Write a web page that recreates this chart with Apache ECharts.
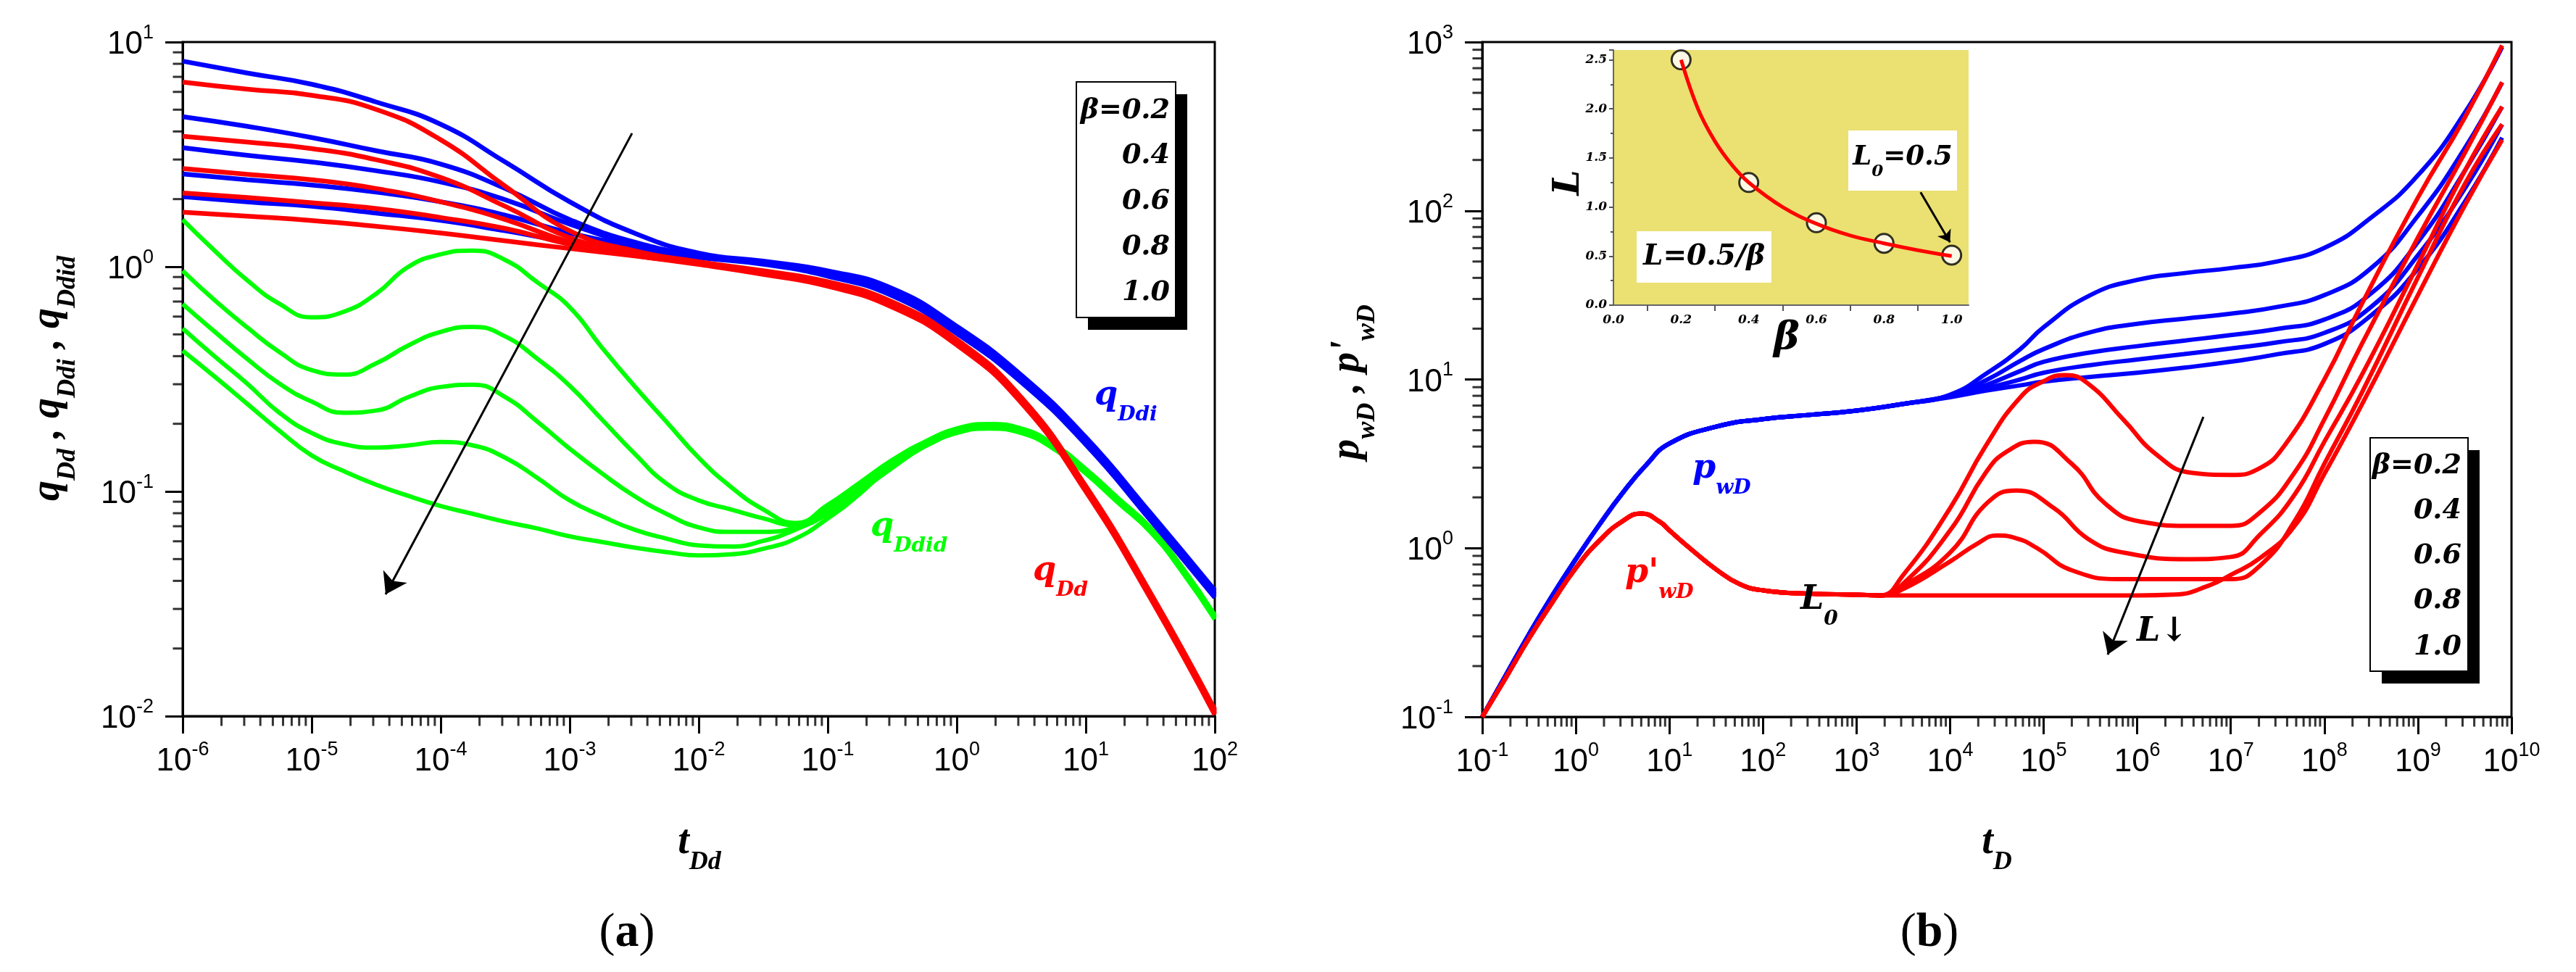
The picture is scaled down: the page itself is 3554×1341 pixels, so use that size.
<!DOCTYPE html>
<html>
<head>
<meta charset="utf-8">
<title>qDd / pwD type curves</title>
<script src="https://cdn.jsdelivr.net/npm/echarts@6.0.0/dist/echarts.min.js"></script>
<style>
  html, body { margin: 0; padding: 0; background: #fff; }
  #container { width: 3554px; height: 1341px; }
</style>
</head>
<body>
<div id="container"></div>
<script>
// both panels are log-log: every value below is the log10 exponent,
// the axes run in decades and the labels are written back as 10^n

var betaLabels = ['β=0.2', '0.4', '0.6', '0.8', '1.0'];

// ---- panel (a), x = log10(tDd)
var tDdHalf = [-6, -5.5, -5, -4.5, -4, -3.5, -3, -2.5, -2, -1.5, -1, -0.5, 0, 0.5, 1, 1.5, 2];
var tDdQuarter = [-6, -5.75, -5.5, -5.25, -5, -4.75, -4.5, -4.25, -4, -3.75, -3.5, -3.25, -3, -2.75, -2.5, -2.25,
                  -2, -1.75, -1.5, -1.25, -1, -0.75, -0.5, -0.25, 0, 0.25, 0.5, 0.75, 1, 1.25, 1.5, 1.75, 2];

// qDdi (blue) on tDdHalf
var qDdi02 = [0.915, 0.862, 0.812, 0.733, 0.634, 0.466, 0.289, 0.15, 0.061, 0.025, -0.018, -0.097, -0.265, -0.482, -0.759, -1.095, -1.44];
var qDdi04 = [0.668, 0.625, 0.575, 0.516, 0.457, 0.348, 0.21, 0.11, 0.051, 0.02, -0.024, -0.105, -0.273, -0.49, -0.767, -1.103, -1.448];
var qDdi06 = [0.53, 0.496, 0.466, 0.427, 0.377, 0.298, 0.19, 0.10, 0.047, 0.017, -0.03, -0.113, -0.281, -0.498, -0.775, -1.111, -1.456];
var qDdi08 = [0.413, 0.387, 0.364, 0.332, 0.289, 0.229, 0.15, 0.091, 0.045, 0.014, -0.036, -0.121, -0.289, -0.506, -0.783, -1.119, -1.464];
var qDdi10 = [0.312, 0.289, 0.269, 0.239, 0.206, 0.16, 0.11, 0.075, 0.041, 0.011, -0.042, -0.129, -0.297, -0.514, -0.791, -1.127, -1.472];

// qDd (red) on tDdHalf
var qDd02 = [0.822, 0.79, 0.763, 0.70, 0.565, 0.358, 0.16, 0.071, 0.022, -0.018, -0.067, -0.156, -0.324, -0.581, -0.976, -1.45, -1.97];
var qDd04 = [0.581, 0.555, 0.526, 0.476, 0.397, 0.269, 0.13, 0.061, 0.019, -0.022, -0.072, -0.162, -0.330, -0.587, -0.982, -1.456, -1.976];
var qDd06 = [0.437, 0.411, 0.387, 0.348, 0.289, 0.21, 0.11, 0.051, 0.016, -0.026, -0.077, -0.168, -0.336, -0.593, -0.988, -1.462, -1.982];
var qDd08 = [0.328, 0.308, 0.285, 0.259, 0.219, 0.17, 0.10, 0.051, 0.013, -0.03, -0.082, -0.174, -0.342, -0.599, -0.994, -1.468, -1.988];
var qDd10 = [0.243, 0.225, 0.206, 0.18, 0.15, 0.115, 0.081, 0.048, 0.01, -0.034, -0.087, -0.18, -0.348, -0.605, -1.0, -1.474, -1.994];

// qDdid (green) on tDdQuarter
var qDdid02 = [0.209, 0.07, -0.06, -0.165, -0.225, -0.2, -0.12, 0.0, 0.055, 0.072, 0.03, -0.07, -0.18, -0.36, -0.53, -0.69,
               -0.85, -0.98, -1.08, -1.14, -1.06, -0.96, -0.86, -0.78, -0.72, -0.70, -0.72, -0.79, -0.9, -1.03, -1.16, -1.34, -1.55];
var qDdid04 = [-0.018, -0.15, -0.27, -0.38, -0.46, -0.48, -0.43, -0.35, -0.29, -0.268, -0.31, -0.41, -0.53, -0.68, -0.83, -0.965,
               -1.04, -1.08, -1.12, -1.15, -1.07, -0.97, -0.87, -0.785, -0.725, -0.705, -0.725, -0.795, -0.905, -1.035, -1.165, -1.345, -1.555];
var qDdid06 = [-0.166, -0.29, -0.41, -0.52, -0.60, -0.65, -0.64, -0.58, -0.535, -0.525, -0.58, -0.69, -0.81, -0.92, -1.02, -1.10,
               -1.16, -1.18, -1.18, -1.16, -1.09, -0.99, -0.885, -0.795, -0.73, -0.71, -0.73, -0.80, -0.91, -1.04, -1.17, -1.35, -1.56];
var qDdid08 = [-0.275, -0.40, -0.52, -0.65, -0.74, -0.79, -0.805, -0.795, -0.78, -0.795, -0.85, -0.94, -1.04, -1.11, -1.17, -1.21,
               -1.24, -1.245, -1.22, -1.17, -1.10, -1.0, -0.895, -0.80, -0.735, -0.715, -0.735, -0.805, -0.915, -1.045, -1.175, -1.355, -1.565];
var qDdid10 = [-0.374, -0.49, -0.61, -0.73, -0.84, -0.91, -0.97, -1.02, -1.065, -1.10, -1.135, -1.165, -1.20, -1.225, -1.25, -1.27,
               -1.285, -1.28, -1.255, -1.21, -1.12, -1.01, -0.88, -0.80, -0.74, -0.72, -0.74, -0.81, -0.92, -1.05, -1.18, -1.36, -1.57];

// ---- panel (b), x = log10(tD)
// pwD (blue): common early part, then one branch per beta
var tDBlueEarly = [-1, -0.75, -0.5, -0.25, 0, 0.25, 0.5, 0.75, 1, 1.5, 2, 2.5, 3, 3.5];
var pwDEarly = [-1.0, -0.755, -0.51, -0.28, -0.065, 0.138, 0.327, 0.492, 0.62, 0.72, 0.765, 0.79, 0.815, 0.855];
var tDBlueLate = [4, 4.4, 4.75, 5, 5.5, 6, 6.5, 7, 7.5, 8, 8.5, 9, 9.5, 9.9];
var pwD02 = [0.91, 1.04, 1.18, 1.31, 1.5, 1.59, 1.63, 1.66, 1.70, 1.78, 1.96, 2.21, 2.58, 2.97];
var pwD04 = [0.905, 1.0, 1.11, 1.18, 1.28, 1.33, 1.36, 1.39, 1.43, 1.5, 1.66, 1.97, 2.37, 2.76];
var pwD06 = [0.9, 0.97, 1.05, 1.105, 1.16, 1.197, 1.23, 1.263, 1.30, 1.355, 1.51, 1.815, 2.236, 2.617];
var pwD08 = [0.9, 0.95, 1.0, 1.04, 1.085, 1.118, 1.15, 1.184, 1.22, 1.276, 1.43, 1.736, 2.131, 2.512];
var pwD10 = [0.895, 0.935, 0.965, 0.987, 1.015, 1.04, 1.07, 1.105, 1.15, 1.21, 1.38, 1.657, 2.052, 2.433];

// p'wD (red): common early part (hump and L0 plateau), then one branch per beta
var tDRedEarly = [-1, -0.75, -0.5, -0.25, 0, 0.25, 0.5, 0.7, 0.9, 1.0, 1.25, 1.5, 1.75, 2, 2.5, 3];
var dpwDEarly = [-1.0, -0.77, -0.535, -0.32, -0.118, 0.043, 0.16, 0.205, 0.155, 0.105, -0.015, -0.126, -0.213, -0.25, -0.27, -0.276];
var tDRed02 = [3.25, 3.5, 4, 4.38, 4.75, 5, 5.23, 5.48, 5.85, 6.21, 6.58, 7, 7.31, 7.57, 8, 8.4, 9, 9.5, 9.9];
var dpwD02 = [-0.28, -0.158, 0.237, 0.605, 0.894, 0.99, 1.026, 0.973, 0.763, 0.553, 0.447, 0.434, 0.474, 0.605, 1.0, 1.447, 2.078, 2.551, 2.98];
var tDRed04 = [3.25, 3.5, 4, 4.38, 4.6, 4.9, 5.3, 5.66, 6.03, 6.58, 7, 7.31, 7.68, 8, 8.4, 9, 9.5, 9.9];
var dpwD04 = [-0.28, -0.21, 0.105, 0.447, 0.57, 0.631, 0.5, 0.263, 0.158, 0.132, 0.132, 0.211, 0.447, 0.763, 1.21, 1.841, 2.341, 2.762];
var tDRed06 = [3.25, 3.5, 4, 4.4, 4.71, 5.11, 5.48, 5.85, 6.58, 7, 7.31, 7.68, 8, 8.4, 9, 9.5, 9.9];
var dpwD06 = [-0.28, -0.224, -0.026, 0.27, 0.342, 0.237, 0.053, -0.026, -0.065, -0.052, 0.079, 0.316, 0.631, 1.026, 1.683, 2.236, 2.617];
var tDRed08 = [3.25, 3.5, 4, 4.3, 4.5, 4.7, 4.93, 5.3, 5.85, 7, 7.31, 7.68, 8, 8.4, 9, 9.5, 9.9];
var dpwD08 = [-0.28, -0.242, -0.079, 0.03, 0.075, 0.06, 0.0, -0.131, -0.184, -0.184, -0.105, 0.158, 0.5, 0.921, 1.605, 2.157, 2.512];
var tDRed10 = [3.25, 4, 5, 6, 6.4, 6.76, 7, 7.31, 7.68, 8, 8.4, 9, 9.5, 9.9];
var dpwD10 = [-0.28, -0.28, -0.28, -0.28, -0.275, -0.223, -0.158, -0.06, 0.13, 0.44, 0.85, 1.5, 2.03, 2.42];

// ---- inset: L against beta (linear axes)
var betaLine = [0.2, 0.25, 0.3, 0.35, 0.4, 0.5, 0.6, 0.7, 0.8, 0.9, 1.0];
var lLine = [2.5, 2.0, 1.67, 1.43, 1.25, 1.0, 0.83, 0.71, 0.63, 0.56, 0.5];
var betaPoints = [0.2, 0.4, 0.6, 0.8, 1.0];
var lPoints = [2.5, 1.25, 0.84, 0.63, 0.51];

var BLUE = '#0000ff', RED = '#ff0000', GREEN = '#00ff00';
var SERIF = '"DejaVu Serif", serif';
var TSERIF = '"Liberation Serif", serif';
var SANS = '"Liberation Sans", Arial, sans-serif';

function pairs(xs, ys) {
  return xs.map(function (x, i) { return [x, ys[i]]; });
}

// log minor ticks (2..9 in each decade)
function minorTicks(from, to) {
  var out = [];
  for (var n = from; n < to; n++) {
    for (var k = 2; k <= 9; k++) out.push(n + Math.log10(k));
  }
  return out;
}

var tickRich = {
  b: {fontFamily: SANS, fontSize: 44, color: '#000', verticalAlign: 'bottom', padding: [8, 0, 0, 0]},
  s: {fontFamily: SANS, fontSize: 27, color: '#000', verticalAlign: 'top'}
};
function powLabel(v) {
  return '{b|10}{s|' + Math.round(v) + '}';
}

function decadeAxis(dim, grid, min, max, margin) {
  return {
    type: 'value', gridIndex: grid, min: min, max: max, interval: 1,
    position: dim === 'x' ? 'bottom' : 'left',
    axisLine: {show: true, onZero: false, lineStyle: {color: '#000', width: 3}},
    axisTick: {show: true, length: 24, lineStyle: {color: '#000', width: 3}},
    axisLabel: {show: true, margin: margin, formatter: powLabel, rich: tickRich},
    splitLine: {show: false}
  };
}

// minor log ticks drawn as small bars hanging outside the bottom / left axis lines
function minorTickSeries(axisIndex, dim, from, to, other) {
  var vals = minorTicks(from, to);
  var isX = dim === 'x';
  return {
    name: 'minor ticks', type: 'scatter', xAxisIndex: axisIndex, yAxisIndex: axisIndex,
    data: vals.map(function (v) { return isX ? [v, other] : [other, v]; }),
    symbol: 'rect', symbolSize: isX ? [3, 13] : [13, 3], symbolOffset: isX ? [0, 7] : [-7, 0],
    itemStyle: {color: '#000'}, clip: false, silent: true, z: 6
  };
}

function curve(name, xi, data, color, width, extra) {
  var s = {
    name: name, type: 'line', xAxisIndex: xi, yAxisIndex: xi,
    data: data, smooth: 0.5, showSymbol: false, symbol: 'none',
    lineStyle: {color: color, width: width}, itemStyle: {color: color},
    silent: true, z: 3
  };
  if (extra) for (var k in extra) s[k] = extra[k];
  return s;
}

function arrowLine(from, to, size) {
  return {
    silent: true, animation: false, symbol: ['none', 'arrow'], symbolSize: size,
    lineStyle: {color: '#000', width: 3, type: 'solid'},
    label: {show: false},
    data: [[{coord: from}, {coord: to}]]
  };
}

var series = [];
// panel (a): green under blue under red
[qDdid02, qDdid04, qDdid06, qDdid08, qDdid10].forEach(function (ys, i) {
  series.push(curve('qDdid ' + betaLabels[i], 0, pairs(tDdQuarter, ys), GREEN, 6));
});
[qDdi02, qDdi04, qDdi06, qDdi08, qDdi10].forEach(function (ys, i) {
  series.push(curve('qDdi ' + betaLabels[i], 0, pairs(tDdHalf, ys), BLUE, 6.5));
});
[qDd02, qDd04, qDd06, qDd08, qDd10].forEach(function (ys, i) {
  var extra = i === 0 ? {markLine: arrowLine([-2.517, 0.594], [-4.427, -1.458], 28)} : null;
  series.push(curve('qDd ' + betaLabels[i], 0, pairs(tDdHalf, ys), RED, 6.5, extra));
});

// panel (b)
[pwD02, pwD04, pwD06, pwD08, pwD10].forEach(function (ys, i) {
  var data = pairs(tDBlueEarly, pwDEarly).concat(pairs(tDBlueLate, ys));
  series.push(curve('pwD ' + betaLabels[i], 1, data, BLUE, 6));
});
[[tDRed02, dpwD02], [tDRed04, dpwD04], [tDRed06, dpwD06], [tDRed08, dpwD08], [tDRed10, dpwD10]].forEach(function (c, i) {
  var data = pairs(tDRedEarly, dpwDEarly).concat(pairs(c[0], c[1]));
  var extra = i === 0 ? {markLine: arrowLine([6.707, 0.778], [5.685, -0.631], 28)} : null;
  series.push(curve("p'wD " + betaLabels[i], 1, data, RED, 6, extra));
});

series.push(minorTickSeries(0, 'x', -6, 2, -2));
series.push(minorTickSeries(0, 'y', -2, 1, -6));
series.push(minorTickSeries(1, 'x', -1, 10, -1));
series.push(minorTickSeries(1, 'y', -1, 3, -1));

// inset
series.push({
  name: 'L points', type: 'scatter', xAxisIndex: 2, yAxisIndex: 2,
  data: pairs(betaPoints, lPoints), symbol: 'circle', symbolSize: 26,
  itemStyle: {color: '#fff', borderColor: '#000', borderWidth: 3}, silent: true, z: 2
});
series.push(curve('L = 0.5/β', 2, pairs(betaLine, lLine), RED, 5,
  {smooth: 0.4, z: 4, markLine: arrowLine([0.908, 1.15], [0.995, 0.64], 16)}));

// inset axes
var insetLabel = {fontFamily: SERIF, fontStyle: 'italic', fontWeight: 'bold', fontSize: 17, color: '#000'};
var insetX = {
  type: 'value', gridIndex: 2, min: 0, max: 1.05, interval: 0.2, position: 'bottom',
  axisLine: {onZero: false, lineStyle: {color: '#666', width: 2}},
  axisTick: {show: false},
  minorTick: {show: true, splitNumber: 2, length: 8, lineStyle: {color: '#555', width: 2}},
  axisLabel: Object.assign({margin: 12, formatter: function (v) {
    return Math.abs(v * 5 - Math.round(v * 5)) < 1e-6 ? v.toFixed(1) : '';
  }}, insetLabel),
  splitLine: {show: false}
};
var insetY = {
  type: 'value', gridIndex: 2, min: 0, max: 2.6, interval: 0.5, position: 'left',
  axisLine: {onZero: false, lineStyle: {color: '#666', width: 2}},
  axisTick: {show: true, length: 6, lineStyle: {color: '#555', width: 2}},
  minorTick: {show: true, splitNumber: 2, length: 4, lineStyle: {color: '#555', width: 2}},
  axisLabel: Object.assign({margin: 9, formatter: function (v) {
    return Math.abs(v * 2 - Math.round(v * 2)) < 1e-6 ? v.toFixed(1) : '';
  }}, insetLabel),
  splitLine: {show: false}
};

// text helpers (graphic layer)
function annRich(color) {
  return {
    m: {fill: color, fontFamily: SERIF, fontStyle: 'italic', fontWeight: 'bold', fontSize: 46, verticalAlign: 'top'},
    s: {fill: color, fontFamily: SERIF, fontStyle: 'italic', fontWeight: 'bold', fontSize: 28, verticalAlign: 'bottom', padding: [35, 0, 0, 0]}
  };
}
var titleRich = {
  m: {fill: '#000', fontFamily: TSERIF, fontStyle: 'italic', fontWeight: 'bold', fontSize: 56, verticalAlign: 'top'},
  s: {fill: '#000', fontFamily: TSERIF, fontStyle: 'italic', fontWeight: 'bold', fontSize: 36, verticalAlign: 'bottom', padding: [37, 0, 0, 0]}
};
var panelRich = {
  p: {fill: '#000', fontFamily: TSERIF, fontSize: 66},
  b: {fill: '#000', fontFamily: TSERIF, fontSize: 66, fontWeight: 'bold'}
};

function txt(x, y, text, rich, align, rotation) {
  return {
    type: 'text', x: x, y: y, rotation: rotation || 0, silent: true, z: 100,
    style: {text: text, rich: rich, align: align || 'left', verticalAlign: 'middle'}
  };
}
function plain(x, y, text, size, align) {
  return {
    type: 'text', x: x, y: y, silent: true, z: 100,
    style: {text: text, fill: '#000', fontFamily: SERIF, fontStyle: 'italic', fontWeight: 'bold',
            fontSize: size, align: align || 'left', verticalAlign: 'middle'}
  };
}
function rect(x, y, w, h, fill, stroke) {
  return {
    type: 'rect', silent: true, z: 99, shape: {x: x, y: y, width: w, height: h},
    style: {fill: fill, stroke: stroke || null, lineWidth: stroke ? 2 : 0}
  };
}
function legendBox(x, y, w, h, textX, rows) {
  var els = [rect(x + 16, y + 17, w, h, '#000'), rect(x, y, w, h, '#fff', '#000')];
  betaLabels.forEach(function (t, i) { els.push(plain(textX, rows[i], t, 38, 'right')); });
  return els;
}

var elements = []
  .concat(legendBox(1485, 113, 137, 325, 1614, [153, 215, 278, 341, 404]))
  .concat(legendBox(3270, 604, 135, 322, 3396, [643, 705, 767, 829, 893]))
  .concat([
    // axis titles
    txt(75, 522, '{m|q}{s|Dd}{m| , q}{s|Ddi}{m| , q}{s|Ddid}', titleRich, 'center', Math.PI / 2),
    txt(965, 1171, '{m|t}{s|Dd}', titleRich, 'center'),
    txt(1868, 527, "{m|p}{s|wD}{m| , p'}{s|wD}", titleRich, 'center', Math.PI / 2),
    txt(2755, 1171, '{m|t}{s|D}', titleRich, 'center'),
    txt(865, 1288, '{p|(}{b|a}{p|)}', panelRich, 'center'),
    txt(2662, 1288, '{p|(}{b|b}{p|)}', panelRich, 'center'),
    // curve annotations
    txt(1510, 555, '{m|q}{s|Ddi}', annRich(BLUE)),
    txt(1201, 736, '{m|q}{s|Ddid}', annRich(GREEN)),
    txt(1425, 797, '{m|q}{s|Dd}', annRich(RED)),
    txt(2335, 656, '{m|p}{s|wD}', annRich(BLUE)),
    txt(2242, 800, "{m|p'}{s|wD}", annRich(RED)),
    txt(2484, 837, '{m|L}{s|0}', annRich('#000')),
    txt(2948, 872, '{m|L↓}', annRich('#000')),
    // inset labels
    rect(2258, 319, 186, 71, '#fff'),
    plain(2351, 355, 'L=0.5/β', 39, 'center'),
    rect(2550, 180, 150, 83, '#fff'),
    txt(2625, 224, '{m|L}{s|0}{m|=0.5}', {
      m: {fill: '#000', fontFamily: SERIF, fontStyle: 'italic', fontWeight: 'bold', fontSize: 37, verticalAlign: 'top'},
      s: {fill: '#000', fontFamily: SERIF, fontStyle: 'italic', fontWeight: 'bold', fontSize: 23, verticalAlign: 'bottom', padding: [27, 0, 0, 0]}
    }, 'center'),
    {type: 'text', x: 2165, y: 252, rotation: Math.PI / 2, silent: true, z: 100,
     style: {text: 'L', fill: '#000', fontFamily: SERIF, fontStyle: 'italic', fontWeight: 'bold', fontSize: 50, align: 'center', verticalAlign: 'middle'}},
    plain(2465, 468, 'β', 54, 'center')
  ]);

var option = {
  animation: false,
  backgroundColor: '#fff',
  grid: [
    {left: 252, top: 58, width: 1424, height: 930, show: true, borderColor: '#000', borderWidth: 3, backgroundColor: 'transparent'},
    {left: 2045, top: 58, width: 1420, height: 931, show: true, borderColor: '#000', borderWidth: 3, backgroundColor: 'transparent'},
    {left: 2226, top: 69, width: 490, height: 352, show: true, borderWidth: 0, backgroundColor: '#ebe072'}
  ],
  xAxis: [decadeAxis('x', 0, -6, 2, 33), decadeAxis('x', 1, -1, 10, 33), insetX],
  yAxis: [decadeAxis('y', 0, -2, 1, 40), decadeAxis('y', 1, -1, 3, 40), insetY],
  series: series,
  graphic: {elements: elements}
};

var myChart = echarts.init(document.getElementById('container'));
myChart.setOption(option);
window.addEventListener('resize', function () { myChart.resize(); });
</script>
</body>
</html>
